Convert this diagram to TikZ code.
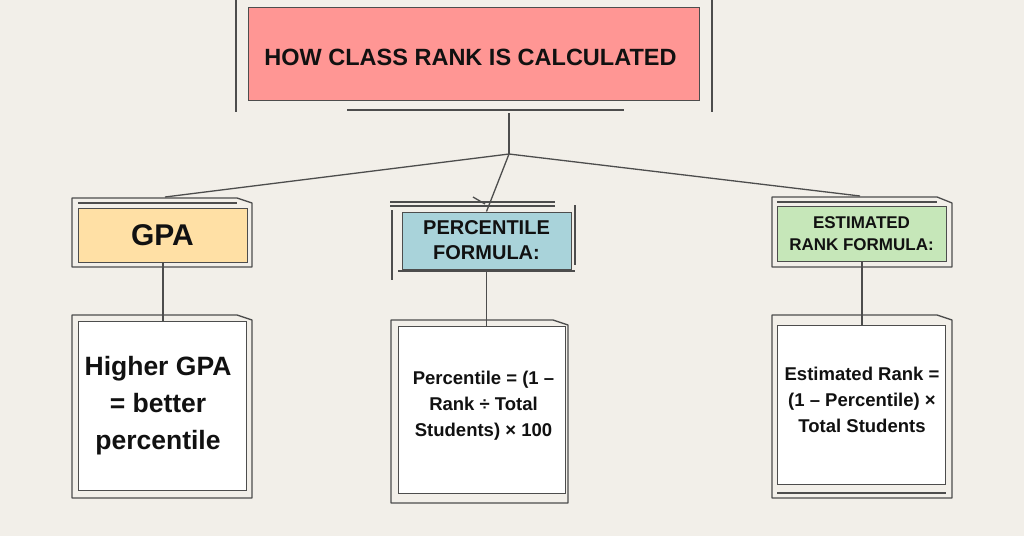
\documentclass[tikz,border=0pt]{standalone}
\usepackage{fontspec}
\setmainfont{Liberation Sans}
\definecolor{bg}{HTML}{F2EFE9}
\definecolor{titlefill}{HTML}{FF9694}
\definecolor{gpafill}{HTML}{FFE0A5}
\definecolor{pctfill}{HTML}{A9D3DA}
\definecolor{estfill}{HTML}{C6E7B9}
\definecolor{ln}{HTML}{4D4D4D}
\definecolor{txt}{HTML}{111111}
\begin{document}
\begin{tikzpicture}[x=1pt,y=-1pt,
  frame/.style={draw=ln, line width=1.3pt, line join=round},
  fillbox/.style={draw=ln, line width=1pt, inner sep=0pt, align=center, text=txt},
  whitebox/.style={fillbox, fill=white},
  lbl/.style={inner sep=0pt, align=center, text=txt},
  link/.style={draw=ln, line width=1.3pt}]
\fill[bg] (0,0) rectangle (1024,536);
\useasboundingbox (0,0) rectangle (1024,536);

% title
\draw[frame] (236,0) -- (236,112);
\draw[frame] (712,0) -- (712,112);
\draw[frame] (347,110) -- (624,110);
\node[fillbox, fill=titlefill, minimum width=451pt, minimum height=93pt] (title) at (473.5,53.5) {};
\node[lbl, font=\fontsize{23.5}{28}\selectfont\bfseries] (titletext) at (470.5,57.5) {HOW CLASS RANK IS CALCULATED};
\coordinate (tstem) at (509,113);
\coordinate (j) at (509,154);
\draw[link] (tstem) -- (j);

% GPA column
\draw[frame] (72,267) -- (72,198) -- (237,198) -- (252,203) -- (252,267) -- cycle;
\draw[frame] (78,203) -- (237,203);
\node[fillbox, fill=gpafill, minimum width=169pt, minimum height=54pt,
  font=\fontsize{30}{34}\selectfont\bfseries] (gpa) at (162.5,235) {GPA};
\draw[frame] (72,498) -- (72,315) -- (237,315) -- (252,320) -- (252,498) -- cycle;
\node[whitebox, minimum width=168pt, minimum height=169pt] (gpabody) at (162,405.5) {};
\node[lbl, font=\fontsize{26.5}{37}\selectfont\bfseries] (gpatext) at (158,405.5) {Higher GPA\\= better\\percentile};
\coordinate (gtop) at (165,197);
\draw[link] (j) -- (gtop);
\draw[link] (gpa.south -| 163,0) -- (gpabody.north -| 163,0);

% Percentile column
\draw[frame] (390,202) -- (555,202);
\draw[frame] (390,206) -- (555,206);
\draw[frame] (392,210) -- (392,280);
\draw[frame] (575,205) -- (575,265);
\draw[frame] (398,271) -- (575,271);
\draw[frame] (473,197) -- (485,204);
\node[fillbox, fill=pctfill, minimum width=169pt, minimum height=57pt,
  font=\fontsize{20}{25}\selectfont\bfseries] (pct) at (486.5,240.5) {PERCENTILE\\FORMULA:};
\draw[frame] (391,503) -- (391,320) -- (553,320) -- (568,325) -- (568,503) -- cycle;
\node[whitebox, minimum width=167pt, minimum height=167pt] (pctbody) at (481.5,409.5) {};
\node[lbl, font=\fontsize{18.5}{26}\selectfont\bfseries] (pcttext) at (483.5,406) {Percentile = (1 –\\Rank ÷ Total\\Students) × 100};
\draw[link] (j) -- (pct.north);
\draw[link] (pct.south) -- (pctbody.north -| pct.south);

% Estimated column
\draw[frame] (772,267) -- (772,197) -- (937,197) -- (952,203) -- (952,267) -- cycle;
\draw[frame] (777,202) -- (937,202);
\node[fillbox, fill=estfill, minimum width=169pt, minimum height=55pt,
  font=\fontsize{17}{21.5}\selectfont\bfseries] (est) at (861.5,233.5) {ESTIMATED\\RANK FORMULA:};
\draw[frame] (772,498) -- (772,315) -- (937,315) -- (952,320) -- (952,498) -- cycle;
\draw[frame] (777,493) -- (946,493);
\node[whitebox, minimum width=168pt, minimum height=159pt] (estbody) at (861,404.5) {};
\node[lbl, font=\fontsize{18.5}{26}\selectfont\bfseries] (esttext) at (862,400) {Estimated Rank =\\(1 – Percentile) ×\\Total Students};
\coordinate (etop) at (860,196);
\draw[link] (j) -- (etop);
\draw[link] (est.south -| 862,0) -- (estbody.north -| 862,0);
\end{tikzpicture}
\end{document}
